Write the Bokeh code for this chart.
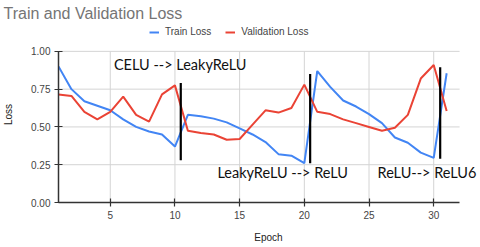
from bokeh.plotting import figure
from bokeh.models import (ColumnDataSource, Legend, LegendItem, FixedTicker,
                          NumeralTickFormatter, LabelSet, Range1d)
from bokeh.core.properties import value
from bokeh.embed import file_html
from bokeh.resources import INLINE

# ---- data ----
epochs = list(range(1, 32))
train_loss = [0.90, 0.75, 0.67, 0.64, 0.61, 0.55, 0.50, 0.47, 0.45, 0.37,
              0.58, 0.57, 0.555, 0.53, 0.49, 0.45, 0.40, 0.32, 0.31, 0.26,
              0.87, 0.765, 0.675, 0.635, 0.585, 0.525, 0.43, 0.395, 0.33, 0.295,
              0.855]
val_loss = [0.715, 0.705, 0.60, 0.55, 0.60, 0.70, 0.58, 0.535, 0.715, 0.775,
            0.475, 0.46, 0.45, 0.415, 0.42, 0.515, 0.61, 0.595, 0.625, 0.78,
            0.60, 0.585, 0.55, 0.525, 0.50, 0.475, 0.495, 0.58, 0.82, 0.91,
            0.605]

switch_epoch = [10.45, 20.45, 30.5]
switch_top = [0.79, 0.85, 0.895]
switch_bottom = [0.28, 0.26, 0.29]

note_text = ["CELU --> LeakyReLU", "LeakyReLU --> ReLU", "ReLU--> ReLU6"]
note_x = [5.28, 13.28, 25.66]
note_y = [0.91, 0.20, 0.20]

x_ticks = [5, 10, 15, 20, 25, 30]
y_ticks = [0, 0.25, 0.5, 0.75, 1.0]
x_lo, x_hi = 1, 32
y_lo, y_hi = 0, 1

FONT = "Liberation Sans"

# ---- layout (pixels) ----
W, H = 478, 245
B_LEFT, B_TOP, B_BOTTOM = 56, 26, 42
PX_PER_EPOCH, PX_PER_UNIT = 13, 152
frame_w = W - B_LEFT
frame_h = H - B_TOP - B_BOTTOM

p = figure(width=W, height=H, output_backend="svg", toolbar_location=None,
           x_range=Range1d(x_lo, x_lo + frame_w / PX_PER_EPOCH),
           y_range=Range1d(y_lo, frame_h / PX_PER_UNIT),
           min_border_left=B_LEFT, min_border_right=0, min_border_top=B_TOP,
           min_border_bottom=B_BOTTOM, title="Train and Validation Loss")
p.background_fill_color = "white"
p.border_fill_color = "white"
p.outline_line_color = None
p.grid.visible = False

p.title.text_font = FONT
p.title.text_font_size = "16px"
p.title.text_font_style = "normal"
p.title.text_color = "#757575"
p.title.offset = -55
p.title.standoff = 6
p.title.vertical_align = "top"

# gridlines limited to the data area
grid_color = "#d4d4d4"
p.segment(x0=x_ticks, y0=[y_lo] * len(x_ticks), x1=x_ticks, y1=[y_hi] * len(x_ticks),
          line_color=grid_color, line_width=1)
p.segment(x0=[x_lo] * len(y_ticks[1:]), y0=y_ticks[1:], x1=[x_hi] * len(y_ticks[1:]),
          y1=y_ticks[1:], line_color=grid_color, line_width=1)

for ax in (p.xaxis[0], p.yaxis[0]):
    ax.axis_line_color = "#333333"
    ax.axis_line_width = 1.5
    ax.major_tick_line_color = "#333333"
    ax.major_tick_line_width = 1.2
    ax.major_tick_in = 4
    ax.major_tick_out = 4
    ax.minor_tick_line_color = None
    ax.major_label_text_font = FONT
    ax.major_label_text_font_size = "10px"
    ax.major_label_text_color = "#444444"
    ax.axis_label_text_font = FONT
    ax.axis_label_text_font_size = "10px"
    ax.axis_label_text_font_style = "normal"
    ax.axis_label_text_color = "#222222"

p.xaxis.ticker = FixedTicker(ticks=x_ticks)
p.yaxis.ticker = FixedTicker(ticks=y_ticks)
p.xaxis.bounds = (x_lo, x_hi)
p.yaxis.bounds = (y_lo, y_hi)
p.yaxis.formatter = NumeralTickFormatter(format="0.00")
p.xaxis.axis_label = "Epoch"
p.yaxis.axis_label = "Loss"
p.xaxis.major_label_standoff = 4
p.xaxis.axis_label_standoff = 10
p.yaxis.major_label_standoff = 4
p.yaxis.axis_label_standoff = 14

src = ColumnDataSource(dict(x=epochs, train=train_loss, val=val_loss))
r_train = p.line("x", "train", source=src, line_color="#4285F4", line_width=2)
r_val = p.line("x", "val", source=src, line_color="#EA4335", line_width=2)

p.segment(x0=switch_epoch, y0=switch_bottom, x1=switch_epoch, y1=switch_top,
          line_color="black", line_width=2.2)

notes = ColumnDataSource(dict(x=note_x, y=note_y, text=note_text))
p.add_layout(LabelSet(x="x", y="y", text="text", source=notes,
                      text_font=value("Lato"), text_font_size=value("14.5px"),
                      text_color="#111111", text_baseline="middle",
                      text_align="left"))

legend = Legend(items=[LegendItem(label="Train Loss", renderers=[r_train]),
                       LegendItem(label="Validation Loss", renderers=[r_val])],
                orientation="horizontal", location=(91, 165),
                label_text_font=FONT, label_text_font_size="10px",
                label_text_color="#444444", glyph_width=10, glyph_height=10,
                label_standoff=6, spacing=14, padding=0, margin=0,
                label_height=10,
                border_line_color=None, background_fill_alpha=0)
p.add_layout(legend, "center")

open("out.html", "w").write(file_html(p, INLINE))
